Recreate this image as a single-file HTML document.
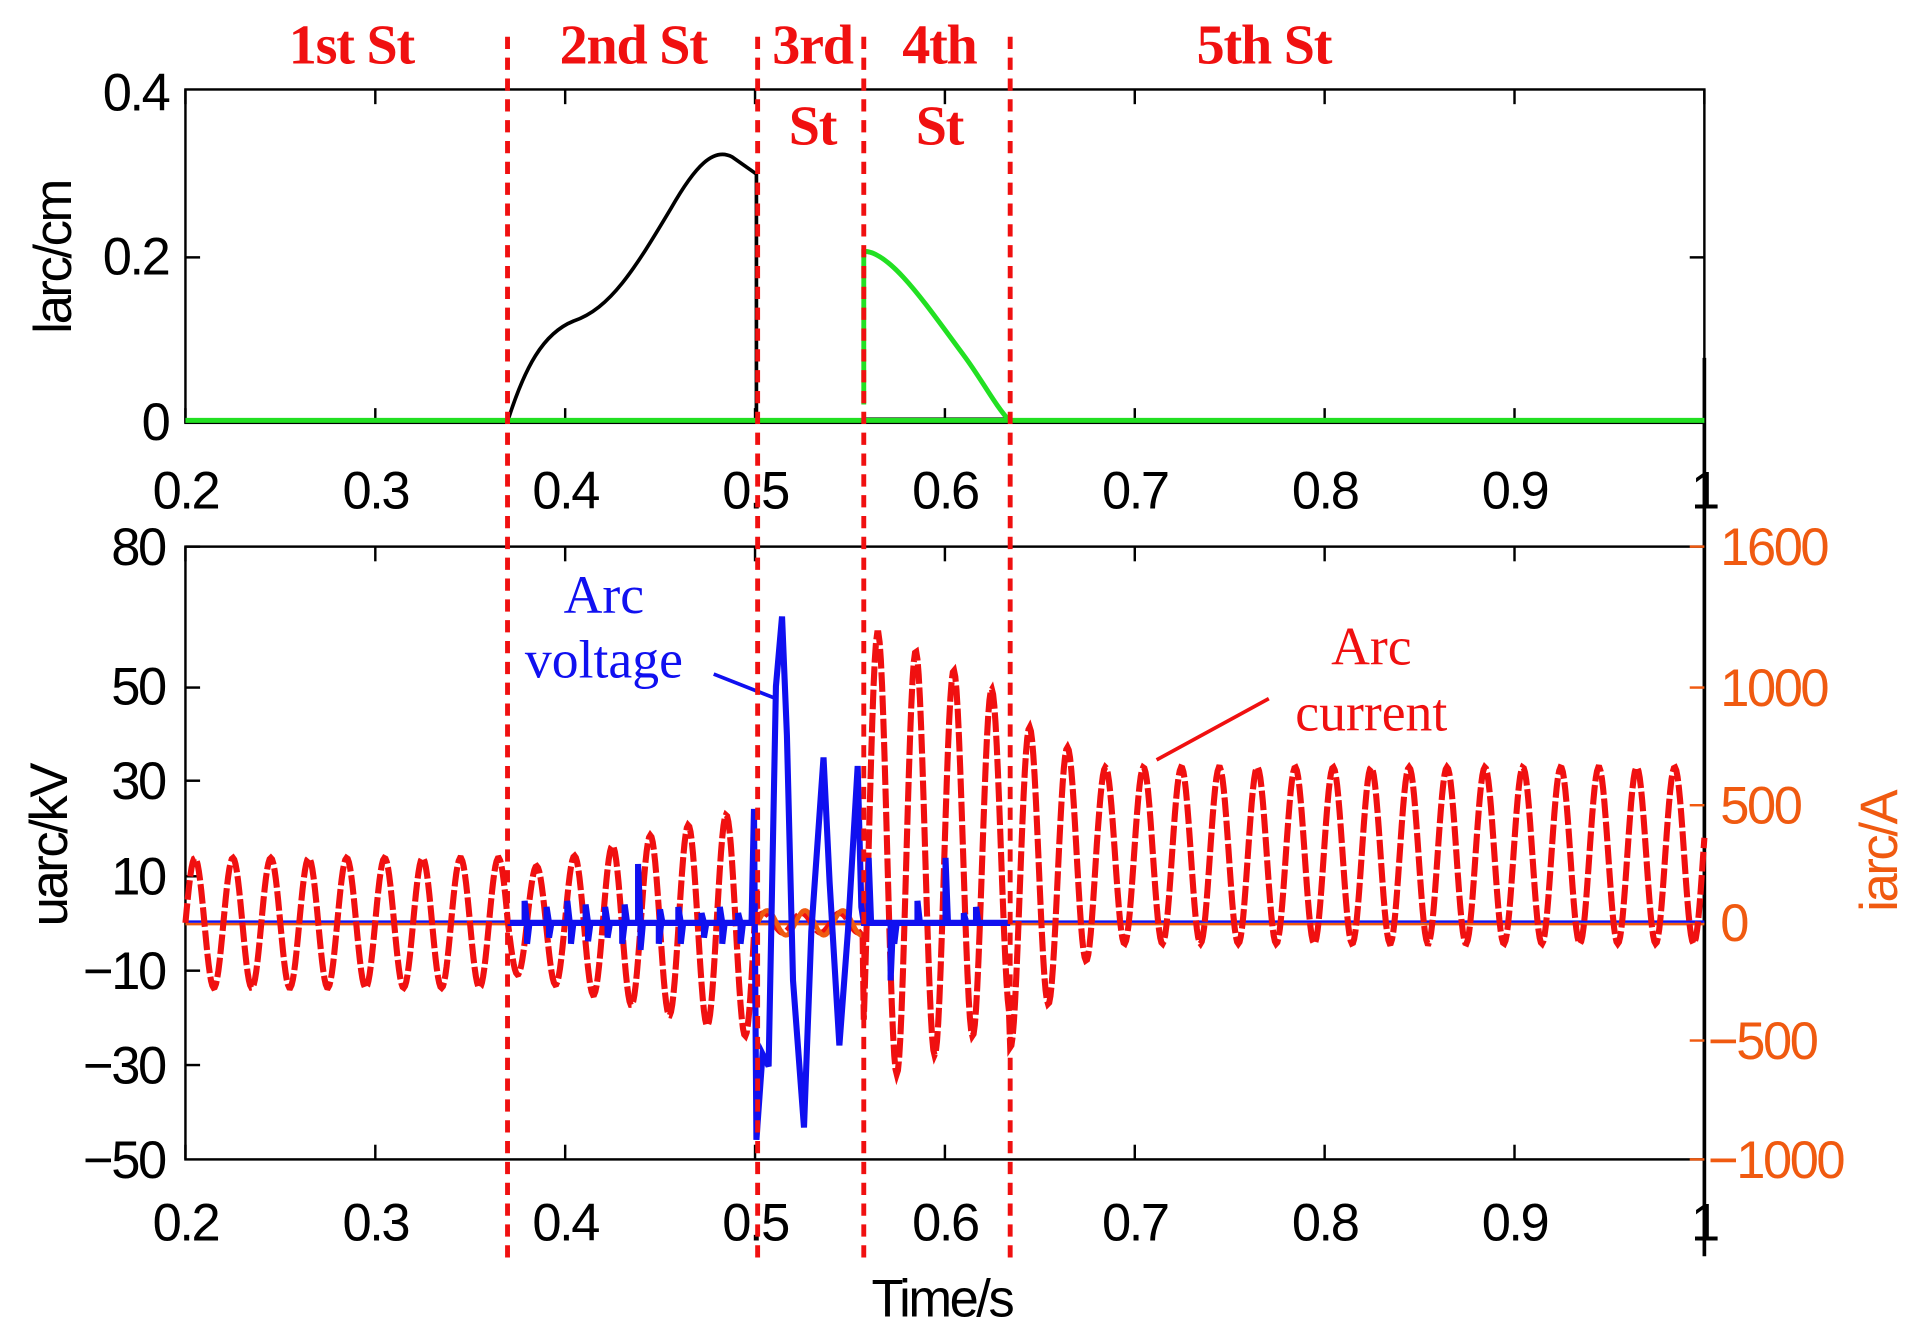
<!DOCTYPE html>
<html><head><meta charset="utf-8"><style>
html,body{margin:0;padding:0;background:#fff;}
svg{display:block;}
.t{font-family:"Liberation Sans",sans-serif;font-size:43px;letter-spacing:-2px;fill:#000;}
.s{font-family:"Liberation Serif",serif;font-size:46px;font-weight:bold;letter-spacing:-1px;fill:#f01010;}
.o{font-family:"Liberation Sans",sans-serif;font-size:43px;letter-spacing:-2px;fill:#f05a10;}
</style></head><body>
<svg id="g" width="1913" height="1331" viewBox="0 0 1568 1086" preserveAspectRatio="none" xmlns="http://www.w3.org/2000/svg">
<rect width="1568" height="1086" fill="#fff"/>
<rect x="152" y="73" width="1245" height="272" fill="none" stroke="#000" stroke-width="2"/>
<g id="tt"></g>
<text class="t" x="138" y="90" text-anchor="end">0.4</text>
<text class="t" x="138" y="224" text-anchor="end">0.2</text>
<text class="t" x="138" y="359" text-anchor="end">0</text>
<text class="t" transform="translate(58,210) rotate(-90)" text-anchor="middle">larc/cm</text>
<rect x="152" y="446" width="1245" height="500" fill="none" stroke="#000" stroke-width="2"/>
<line x1="1397" y1="446" x2="1397" y2="946" stroke="#f05a10" stroke-width="2"/>
<line x1="1397" y1="292" x2="1397" y2="1025" stroke="#000" stroke-width="3"/>
<g id="bt"></g>
<text class="t" x="135" y="461" text-anchor="end">80</text>
<text class="t" x="135" y="575" text-anchor="end">50</text>
<text class="t" x="135" y="652" text-anchor="end">30</text>
<text class="t" x="135" y="730" text-anchor="end">10</text>
<text class="t" x="135" y="807" text-anchor="end">−10</text>
<text class="t" x="135" y="884" text-anchor="end">−30</text>
<text class="t" x="135" y="961" text-anchor="end">−50</text>
<text class="t" transform="translate(55,690) rotate(-90)" text-anchor="middle">uarc/kV</text>
<text class="o" x="1410" y="461">1600</text>
<text class="o" x="1410" y="576">1000</text>
<text class="o" x="1410" y="672">500</text>
<text class="o" x="1410" y="768">0</text>
<text class="o" x="1400" y="864">−500</text>
<text class="o" x="1400" y="961">−1000</text>
<text class="o" transform="translate(1555,695) rotate(-90)" text-anchor="middle">iarc/A</text>
<text class="t" x="772" y="1074" text-anchor="middle">Time/s</text>
<g id="data"></g>
<text class="s" x="288" y="52" text-anchor="middle">1st St</text>
<text class="s" x="519" y="52" text-anchor="middle">2nd St</text>
<text class="s" x="666" y="52" text-anchor="middle">3rd</text>
<text class="s" x="666" y="118" text-anchor="middle">St</text>
<text class="s" x="770" y="52" text-anchor="middle">4th</text>
<text class="s" x="770" y="118" text-anchor="middle">St</text>
<text class="s" x="1036" y="52" text-anchor="middle">5th St</text>
<text x="495" y="500" text-anchor="middle" style="font-family:'Liberation Serif',serif;font-size:44px;fill:#1010f0">Arc</text>
<text x="495" y="553" text-anchor="middle" style="font-family:'Liberation Serif',serif;font-size:44px;fill:#1010f0">voltage</text>
<line x1="585" y1="550" x2="636" y2="570" stroke="#1010f0" stroke-width="3"/>
<text x="1124" y="542" text-anchor="middle" style="font-family:'Liberation Serif',serif;font-size:44px;fill:#f01010">Arc</text>
<text x="1124" y="596" text-anchor="middle" style="font-family:'Liberation Serif',serif;font-size:44px;fill:#f01010">current</text>
<line x1="1040" y1="570" x2="948" y2="620" stroke="#f01010" stroke-width="3"/>
<g id="vl"></g>
</svg>
<script>
var NS="http://www.w3.org/2000/svg";
function el(p,t,a){var e=document.createElementNS(NS,t);for(var k in a)e.setAttribute(k,a[k]);document.getElementById(p).appendChild(e);return e;}
function X(t){return 152+(t-0.2)*1556.25;}
var labs=["0.2","0.3","0.4","0.5","0.6","0.7","0.8","0.9","1"];
for(var i=0;i<9;i++){var x=X(0.2+i*0.1);
 el("tt","line",{x1:x,y1:345,x2:x,y2:333,stroke:"#000","stroke-width":2});
 el("tt","line",{x1:x,y1:73,x2:x,y2:85,stroke:"#000","stroke-width":2});
 var t=el("tt","text",{x:x,y:415,"text-anchor":"middle","class":"t"});t.textContent=labs[i];
 el("bt","line",{x1:x,y1:946,x2:x,y2:934,stroke:"#000","stroke-width":2});
 el("bt","line",{x1:x,y1:446,x2:x,y2:458,stroke:"#000","stroke-width":2});
 t=el("bt","text",{x:x,y:1012,"text-anchor":"middle","class":"t"});t.textContent=labs[i];}
[446,561,637,715,792,869].forEach(function(y){el("bt","line",{x1:152,y1:y,x2:164,y2:y,stroke:"#000","stroke-width":2});});
[446,561,657,753,849,946].forEach(function(y){el("bt","line",{x1:1397,y1:y,x2:1385,y2:y,stroke:"#f05a10","stroke-width":2});});
[210].forEach(function(y){el("tt","line",{x1:152,y1:y,x2:164,y2:y,stroke:"#000","stroke-width":2});el("tt","line",{x1:1397,y1:y,x2:1385,y2:y,stroke:"#000","stroke-width":2});});
el("data","path",{d:"M416 344 C430 300 445 272 470 262 C500 252 520 220 550 170 C570 135 585 120 600 128 L620 142 L620 344 M708 342 L828 342",fill:"none",stroke:"#000","stroke-width":3});
el("data","path",{d:"M152 343 L1397 343 M708 330 L708 205 C730 205 760 250 790 290 C805 310 815 330 828 344",fill:"none",stroke:"#22e022","stroke-width":4});
el("data","line",{x1:152,y1:752,x2:1397,y2:752,stroke:"#1010f0","stroke-width":2});
el("data","line",{x1:152,y1:754,x2:1397,y2:754,stroke:"#f05a10","stroke-width":2});
function amp(x){ if(x<416)return [753,53]; if(x<621){var f=(x-416)/205;return [753,40+f*55];}
 if(x<708)return [753,8]; if(x<828){var f=(x-708)/120;return [700,190-f*60];}
 if(x<900){var f=(x-828)/72;return [720-f*22,135-f*60];} return [698,72];}
var d="";
for(var x=152;x<=1397;x+=1){var a=amp(x);var y=a[0]-a[1]*Math.sin((x-152)/31.1*2*Math.PI);
 d+=(x==152?"M":"L")+x+" "+y.toFixed(1);}
el("data","path",{d:d,fill:"none",stroke:"#f01010","stroke-width":5,"stroke-dasharray":"16 3"});
var o="";for(var x=621;x<=708;x++){o+=(x==621?"M":"L")+x+" "+(753-10*Math.sin((x-621)/31*2*Math.PI)).toFixed(1);}
el("data","path",{d:o,fill:"none",stroke:"#f05a10","stroke-width":4});
var b="M416 753";var sp=[[430,735],[432,770],[448,740],[450,765],[465,735],[468,770],[480,738],[482,768],[496,740],[498,765],[510,770],[512,738],[523,705],[525,775],[540,770],[541,742],[556,740],[558,770],[575,745],[577,765],[590,740],[592,770],[605,745],[607,770]];
sp.forEach(function(p){b+=" L"+p[0]+" 753 L"+p[0]+" "+p[1]+" L"+(p[0]+2)+" 753";});
b+=" L616 753 L618 660 L620 930 L625 860 L630 870 L636 560 L641 503 L645 600 L650 800 L659 920 L665 760 L675 618 L680 720 L688 853 L695 760 L703 625 L706 740 L708 753";
[[712,700],[730,800],[733,770],[752,735],[775,700],[790,745],[800,740]].forEach(function(p){b+=" L"+p[0]+" 753 L"+p[0]+" "+p[1]+" L"+(p[0]+2)+" 753";});
b+=" L828 753";
el("data","path",{d:b,fill:"none",stroke:"#1010f0","stroke-width":5});
[416,621,708,828].forEach(function(x){el("vl","line",{x1:x,y1:30,x2:x,y2:1027,stroke:"#f01010","stroke-width":4,"stroke-dasharray":"10 7"});});
</script>
</body></html>
